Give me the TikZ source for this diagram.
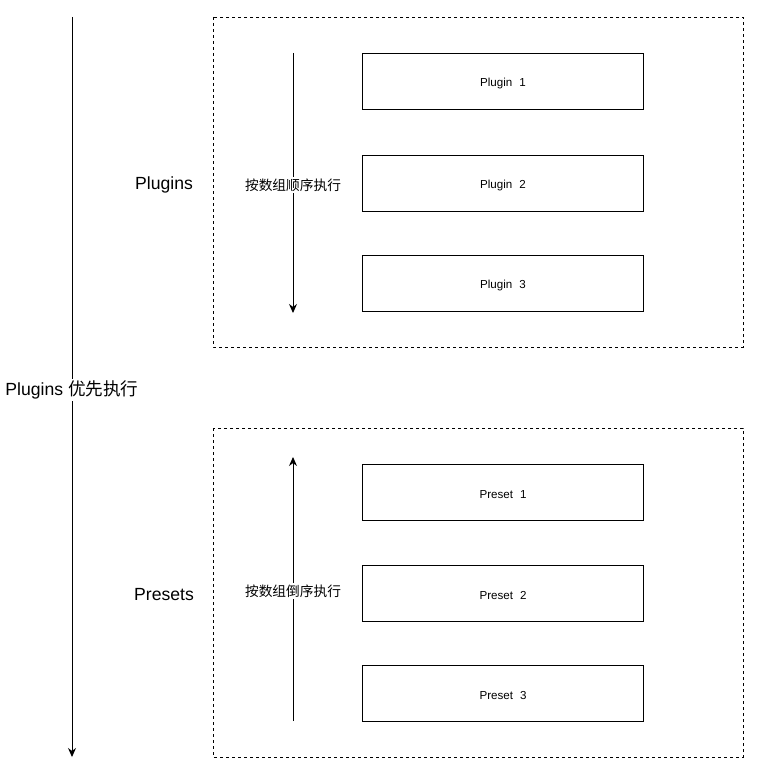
\documentclass[tikz,border=0pt]{standalone}
\usepackage{fontspec}
\setmainfont{Liberation Sans}
\newfontfamily\cjk{Noto Sans CJK SC}
\usetikzlibrary{arrows.meta}
\begin{document}
\begin{tikzpicture}[x=1pt,y=-1pt,
  itembox/.style={draw,line width=1pt,minimum width=281pt,minimum height=56pt,inner sep=0pt},
  itemtext/.style={inner sep=0pt,font=\fontsize{11.6}{14}\selectfont},
  group/.style={draw,dashed,line width=0.8pt},
  flow/.style={line width=1pt,-{Stealth[length=9pt,width=8pt]}},
  lbl/.style={fill=white,inner sep=2pt,font=\fontsize{13.7}{16}\selectfont},
  side/.style={font=\fontsize{17.6}{20}\selectfont}]
\useasboundingbox (0,0) rectangle (764,781);
% groups
\draw[group] (213,17) rectangle (743,347);
\draw[group] (213,428) rectangle (743,757);
% main arrow
\coordinate (mtop) at (72,17);
\coordinate (mbot) at (72,757);
\draw[flow] (mtop) -- (mbot);
\node[fill=white,inner sep=2pt,font=\fontsize{17.6}{20}\selectfont] (mlbl) at (72,390) {Plugins {\cjk 优先执行}};
% side labels
\node[side] (pl) at (164,185) {Plugins};
\node[side] (pr) at (164,595) {Presets};
% plugin boxes
\node[itembox] (p1) at (503,81.5) {};
\node[itembox] (p2) at (503,183) {};
\node[itembox] (p3) at (503,283) {};
\node[itembox] (s1) at (503,492) {};
\node[itembox] (s2) at (503,593) {};
\node[itembox] (s3) at (503,693) {};
\node[itemtext] (p1t) at ([yshift=-2.5pt]p1.center) {Plugin\hspace{0.6em}1};
\node[itemtext] (p2t) at ([yshift=-2.5pt]p2.center) {Plugin\hspace{0.6em}2};
\node[itemtext] (p3t) at ([yshift=-2.5pt]p3.center) {Plugin\hspace{0.6em}3};
\node[itemtext] (s1t) at ([yshift=-2.5pt]s1.center) {Preset\hspace{0.6em}1};
\node[itemtext] (s2t) at ([yshift=-2.5pt]s2.center) {Preset\hspace{0.6em}2};
\node[itemtext] (s3t) at ([yshift=-2.5pt]s3.center) {Preset\hspace{0.6em}3};
% inner arrows
\coordinate (a1) at (293,53);
\coordinate (a2) at (293,313);
\draw[flow] (a1) -- (a2);
\node[lbl] (l1) at (293,185) {\cjk 按数组顺序执行};
\coordinate (b1) at (293,721);
\coordinate (b2) at (293,457);
\draw[flow] (b1) -- (b2);
\node[lbl] (l2) at (293,591) {\cjk 按数组倒序执行};
\end{tikzpicture}
\end{document}
